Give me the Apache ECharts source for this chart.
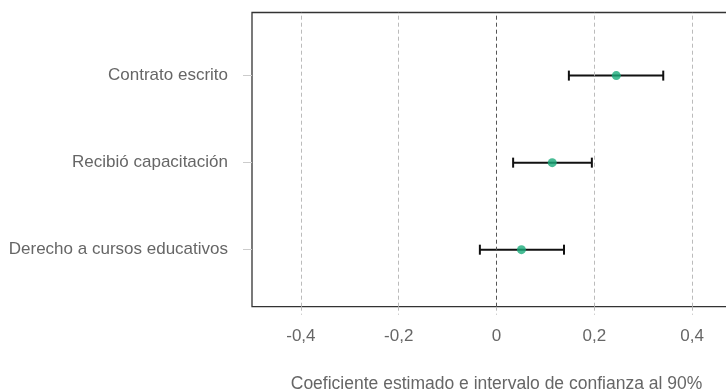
<!DOCTYPE html>
<html><head><meta charset="utf-8">
<script src="https://cdn.jsdelivr.net/npm/echarts@6/dist/echarts.min.js"></script>
<style>html,body{margin:0;padding:0;background:#fff}#c{width:726px;height:391px}</style>
</head><body><div id="c"></div>
<script>
const categories = ['Derecho a cursos educativos', 'Recibió capacitación', 'Contrato escrito'];
const estimates = [0.051, 0.114, 0.245];
const lower = [-0.034, 0.034, 0.148];
const upper = [0.138, 0.195, 0.341];
const xTicks = [-0.4, -0.2, 0, 0.2, 0.4];
const xTitle = 'Coeficiente estimado e intervalo de confianza al 90%';

const catPos = categories.map((c, i) => i + 1);
const font = 'Liberation Sans';
const fmt = v => v === 0 ? '0' : String(v).replace('.', ',');

const chart = echarts.init(document.getElementById('c'), null, {renderer: 'canvas'});
chart.setOption({
  animation: false,
  grid: {left: 252, right: -15, top: 12.5, bottom: 84.3, outerBoundsMode: 'none', containLabel: false,
         show: true, borderColor: '#333', borderWidth: 1.3, backgroundColor: 'transparent'},
  xAxis: {
    type: 'value', min: -0.5, max: 0.5,
    axisLine: {show: false, onZero: false},
    splitLine: {show: false},
    axisTick: {show: true, customValues: xTicks, length: 8, lineStyle: {color: '#bbb', type: [4, 3]}},
    axisLabel: {customValues: xTicks, formatter: fmt, margin: 21.5, color: '#666', fontSize: 17, fontFamily: font},
    name: xTitle, nameLocation: 'middle', nameGap: 68.5,
    nameTextStyle: {color: '#666', fontSize: 17.5, fontFamily: font}
  },
  yAxis: {
    type: 'value', min: 0.345, max: 3.725,
    axisLine: {show: false, onZero: false},
    splitLine: {show: false},
    axisTick: {show: true, customValues: catPos, length: 9, lineStyle: {color: '#ccc'}},
    axisLabel: {customValues: catPos, formatter: v => categories[Math.round(v) - 1], margin: 24, color: '#666', fontSize: 17, fontFamily: font}
  },
  series: [
    {
      type: 'line', data: [], silent: true,
      markLine: {
        silent: true, symbol: 'none', label: {show: false},
        data: xTicks.map(v => ({xAxis: v, lineStyle: {color: v === 0 ? '#555' : '#bbb', type: [4, 3], width: 1}}))
      }
    },
    {
      type: 'custom',
      data: categories.map((c, i) => [lower[i], upper[i], catPos[i]]),
      renderItem: (params, api) => {
        const a = api.coord([api.value(0), api.value(2)]);
        const b = api.coord([api.value(1), api.value(2)]);
        const h = 5;
        const st = {stroke: '#111', lineWidth: 2};
        return {type: 'group', children: [
          {type: 'line', shape: {x1: a[0], y1: a[1], x2: b[0], y2: b[1]}, style: st},
          {type: 'line', shape: {x1: a[0], y1: a[1] - h, x2: a[0], y2: a[1] + h}, style: st},
          {type: 'line', shape: {x1: b[0], y1: b[1] - h, x2: b[0], y2: b[1] + h}, style: st}
        ]};
      },
      z: 3
    },
    {
      type: 'scatter', data: categories.map((c, i) => [estimates[i], catPos[i]]),
      symbolSize: 9, itemStyle: {color: '#1aab7a'}, z: 4
    }
  ]
});
</script></body></html>
